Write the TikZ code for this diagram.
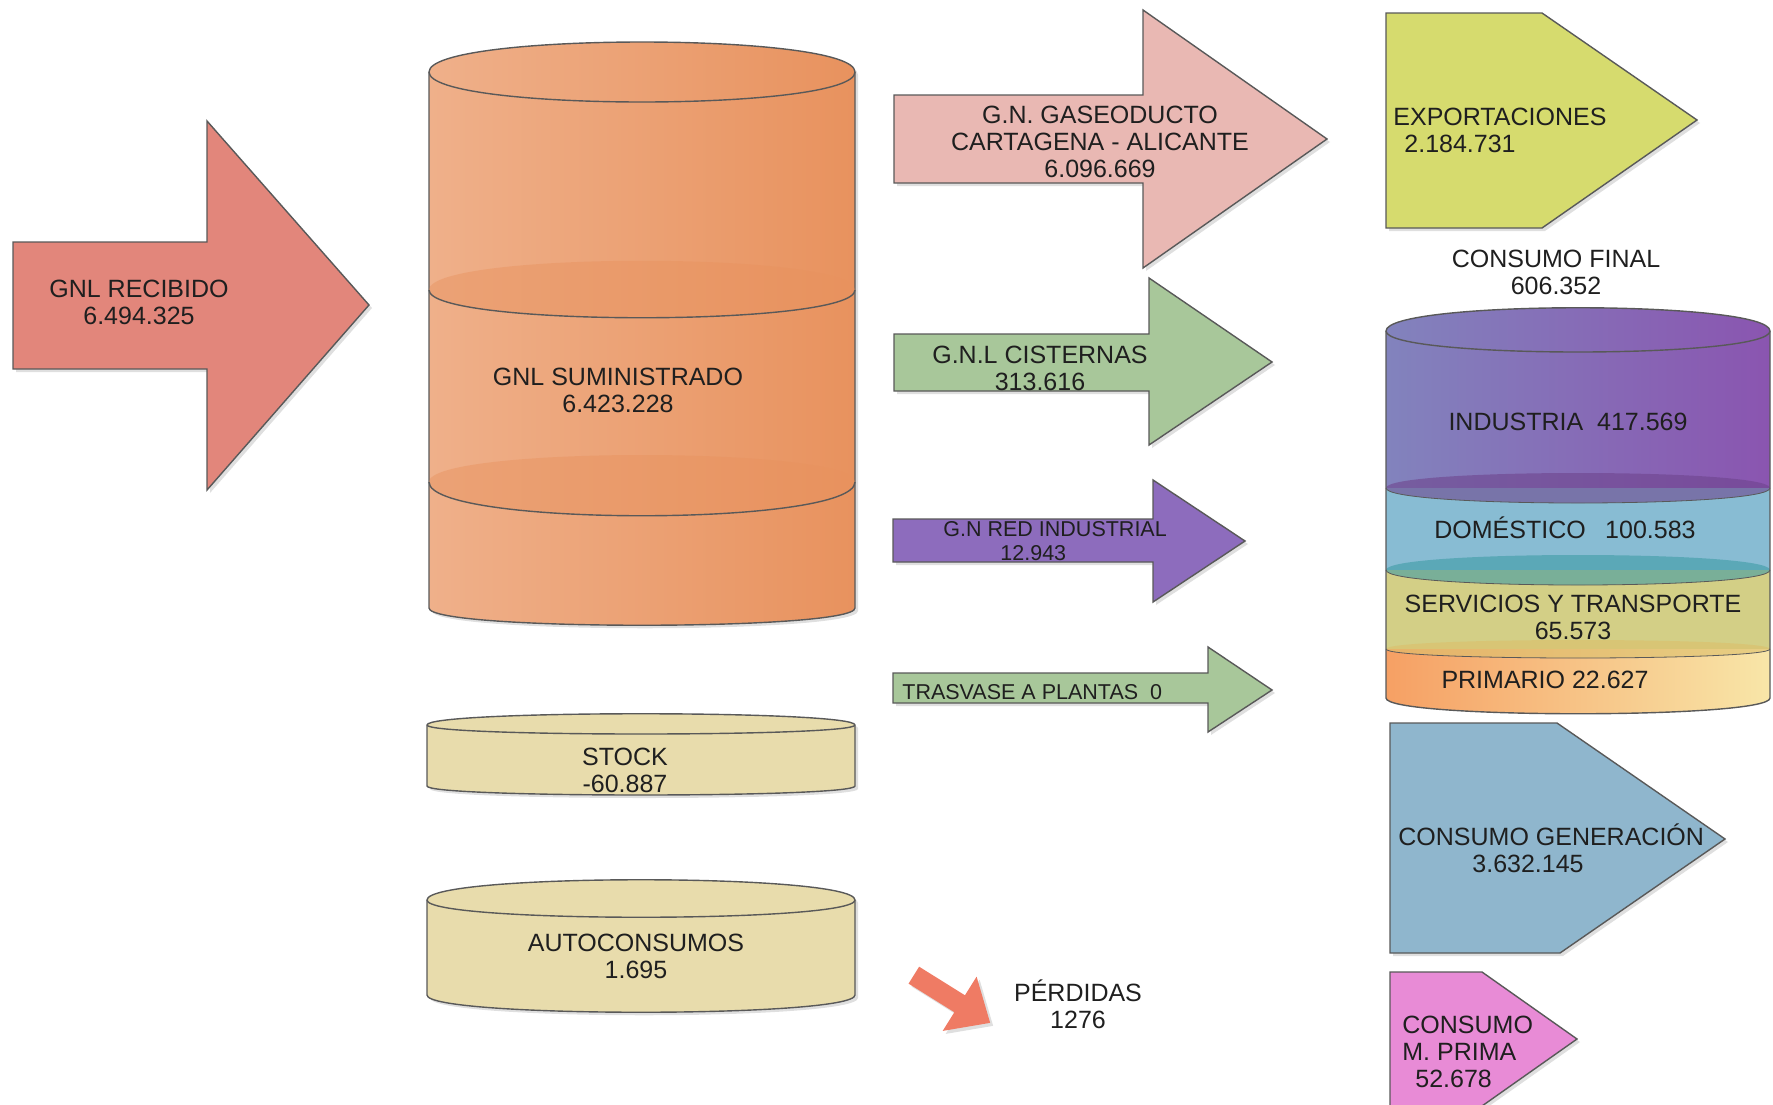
\documentclass[tikz,border=0pt]{standalone}
\usepackage{fontspec}
\setmainfont{Liberation Sans}
\usetikzlibrary{shadows}
\definecolor{cRecibido}{HTML}{E2867B}
\definecolor{cSumA}{HTML}{EFB08A}
\definecolor{cSumB}{HTML}{E8925E}
\definecolor{cGaseo}{HTML}{E9B8B3}
\definecolor{cVerde}{HTML}{A8C79A}
\definecolor{cRed}{HTML}{8D6CBD}
\definecolor{cStock}{HTML}{E8DCAC}
\definecolor{cExport}{HTML}{D6DB6E}
\definecolor{cIndA}{HTML}{8283BD}
\definecolor{cIndB}{HTML}{8A55B0}
\definecolor{cDom}{HTML}{88BCD3}
\definecolor{cServ}{HTML}{D3CF86}
\definecolor{cPrimA}{HTML}{F6A064}
\definecolor{cPrimB}{HTML}{F8E6A8}
\definecolor{cGener}{HTML}{8FB6CD}
\definecolor{cPrima}{HTML}{E88BD6}
\definecolor{cPerd}{HTML}{EF7B64}
\begin{document}
\begin{tikzpicture}[x=0.5pt,y=-0.5pt,
    edge/.style={draw=black!65,line width=0.7pt},
    shadowed/.style={drop shadow={shadow xshift=1.5pt,shadow yshift=-1.5pt,opacity=0.25}},
    lbl/.style={inner sep=0pt,font=\fontsize{12.5}{13.5}\selectfont,text=black!88,align=center},
    smalllbl/.style={lbl,font=\fontsize{10.75}{12}\selectfont,align=left}]
    \useasboundingbox (0,0) rectangle (1773,1104);
    \clip (0,0) rectangle (1773,1104);

    % entrada
    \filldraw[edge,fill=cRecibido,shadowed] (13,242) -- (207,242) -- (207,121) -- (369,305)
        -- (207,490) -- (207,369) -- (13,369) -- cycle;

    % deposito principal
    \path[edge,left color=cSumA,right color=cSumB,shadowed] (429,72) -- (429,608)
        .. controls (429,631) and (855,631) .. (855,608) -- (855,72)
        .. controls (855,32) and (429,32) .. cycle;
    \draw[edge] (429,72) .. controls (429,112) and (855,112) .. (855,72);
    \foreach \yc/\up/\dn in {290/39/37,482/36/45} {
        \fill[cSumB,fill opacity=0.45] (429,\yc) .. controls (429,\yc-\up) and (855,\yc-\up) .. (855,\yc)
            .. controls (855,\yc+\dn) and (429,\yc+\dn) .. cycle;
        \draw[edge] (429,\yc) .. controls (429,\yc+\dn) and (855,\yc+\dn) .. (855,\yc);
    }

    % stock y autoconsumos
    \path[edge,fill=cStock,shadowed] (427,725) -- (427,786) .. controls (427,798) and (855,798) .. (855,786)
        -- (855,725) .. controls (855,710) and (427,710) .. cycle;
    \draw[edge] (427,725) .. controls (427,737) and (855,737) .. (855,725);
    \path[edge,fill=cStock,shadowed] (427,900) -- (427,995) .. controls (427,1018) and (855,1018) .. (855,995)
        -- (855,900) .. controls (855,873) and (427,873) .. cycle;
    \draw[edge] (427,900) .. controls (427,923) and (855,923) .. (855,900);

    % salidas
    \filldraw[edge,fill=cGaseo,shadowed] (894,95) -- (1143,95) -- (1143,10) -- (1327,139)
        -- (1143,268) -- (1143,183) -- (894,183) -- cycle;
    \filldraw[edge,fill=cVerde,shadowed] (894,334) -- (1149,334) -- (1149,278) -- (1272,362)
        -- (1149,445) -- (1149,391) -- (894,391) -- cycle;
    \filldraw[edge,fill=cRed,shadowed] (893,519) -- (1153,519) -- (1153,480) -- (1245,541)
        -- (1153,602) -- (1153,562) -- (893,562) -- cycle;
    \filldraw[edge,fill=cVerde,shadowed] (893,673) -- (1208,673) -- (1208,647) -- (1272,690)
        -- (1208,732) -- (1208,703) -- (893,703) -- cycle;
    \begin{scope}[shift={(952,999)},rotate=-32]
        \fill[cPerd,shadowed] (-45,-10) -- (9,-10) -- (9,-32) -- (45,0) -- (9,32) -- (9,10) -- (-45,10) -- cycle;
    \end{scope}

    % destinos
    \filldraw[edge,fill=cExport,shadowed] (1386,13) -- (1542,13) -- (1697,120) -- (1542,228) -- (1386,228) -- cycle;
    \filldraw[edge,fill=cGener,shadowed] (1390,723) -- (1557,723) -- (1725,839) -- (1560,953) -- (1390,953) -- cycle;
    \filldraw[edge,fill=cPrima,shadowed] (1390,972) -- (1482,972) -- (1577,1039) -- (1482,1106) -- (1390,1106) -- cycle;

    % consumo final
    \path[left color=cIndA,right color=cIndB] (1386,331) -- (1386,488) -- (1770,488) -- (1770,331)
        .. controls (1770,300) and (1386,300) .. cycle;
    \fill[cDom] (1386,488) rectangle (1770,570);
    \fill[cServ] (1386,570) rectangle (1770,649);
    \path[left color=cPrimA,right color=cPrimB] (1386,649) -- (1386,698) .. controls (1386,719) and (1770,719) .. (1770,698)
        -- (1770,649) -- cycle;
    \foreach \yc/\k/\col in {488/20/cIndB!80!black, 570/20/teal!55!cDom, 649/12/cServ!80!orange} {
        \fill[\col,fill opacity=0.6] (1386,\yc) .. controls (1386,\yc-\k) and (1770,\yc-\k) .. (1770,\yc)
            .. controls (1770,\yc+\k) and (1386,\yc+\k) .. cycle;
        \draw[edge,line width=0.4pt] (1386,\yc) .. controls (1386,\yc+\k) and (1770,\yc+\k) .. (1770,\yc);
    }
    \draw[edge] (1386,331) .. controls (1386,359) and (1770,359) .. (1770,331);
    \draw[edge] (1386,331) -- (1386,698) .. controls (1386,719) and (1770,719) .. (1770,698)
        -- (1770,331) .. controls (1770,300) and (1386,300) .. cycle;

    % textos
    \node[lbl] (recibido) at (139,302) {GNL RECIBIDO\\6.494.325};
    \node[lbl] (suministrado) at (618,390) {GNL SUMINISTRADO\\6.423.228};
    \node[lbl] (stock) at (625,770) {STOCK\\-60.887};
    \node[lbl] (autocons) at (636,956) {AUTOCONSUMOS\\1.695};
    \node[lbl] (gaseoducto) at (1100,142) {G.N. GASEODUCTO\\CARTAGENA - ALICANTE\\6.096.669};
    \node[lbl] (cisternas) at (1040,368) {G.N.L CISTERNAS\\313.616};
    \node[smalllbl,anchor=west] (redind) at (943,541) {G.N RED INDUSTRIAL\\\hspace*{28.5pt}12.943};
    \node[smalllbl,anchor=west] (trasvase) at (902,692) {TRASVASE A PLANTAS~~0};
    \node[lbl] (perdidas) at (1078,1004) {PÉRDIDAS\\1276};
    \node[lbl,align=left,anchor=west] (export) at (1393,130) {EXPORTACIONES\\\hspace*{5.5pt}2.184.731};
    \node[lbl] (cfinal) at (1556,272) {CONSUMO FINAL\\606.352};
    \node[lbl] (industria) at (1568,422) {INDUSTRIA~~417.569};
    \node[lbl] (domestico) at (1565,528) {DOMÉSTICO\hspace{0.5em} 100.583};
    \node[lbl] (servicios) at (1573,617) {SERVICIOS Y TRANSPORTE\\65.573};
    \node[lbl] (primario) at (1545,680) {PRIMARIO 22.627};
    \node[lbl,align=left,anchor=west] (generacion) at (1398,848) {CONSUMO GENERACIÓN\\\hspace*{37pt}3.632.145};
    \node[lbl,align=left,anchor=west] (mprima) at (1402,1052) {CONSUMO\\M. PRIMA\\\hspace*{6.5pt}52.678};
\end{tikzpicture}
\end{document}
